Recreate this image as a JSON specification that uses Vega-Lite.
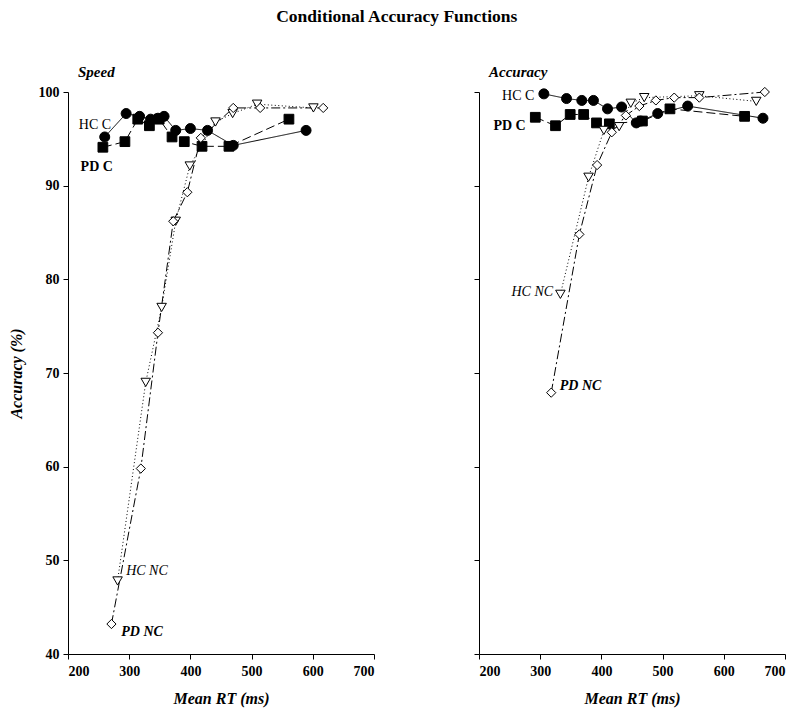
{
  "$schema": "https://vega.github.io/schema/vega-lite/v6.json",
  "background": "white",
  "padding": {"left": 8, "top": 7, "right": 5, "bottom": 5},
  "title": {"text": "Conditional Accuracy Functions", "font": "Liberation Serif", "fontSize": 17.5, "fontWeight": "bold", "anchor": "middle", "color": "black", "offset": 40},
  "datasets": {
    "pts": [
      {"panel": "Speed", "group": "HC C", "rt": 260, "acc": 95.2},
      {"panel": "Speed", "group": "HC C", "rt": 295, "acc": 97.7},
      {"panel": "Speed", "group": "HC C", "rt": 317, "acc": 97.4},
      {"panel": "Speed", "group": "HC C", "rt": 335, "acc": 97.1},
      {"panel": "Speed", "group": "HC C", "rt": 347, "acc": 97.2},
      {"panel": "Speed", "group": "HC C", "rt": 357, "acc": 97.4},
      {"panel": "Speed", "group": "HC C", "rt": 376, "acc": 95.9},
      {"panel": "Speed", "group": "HC C", "rt": 400, "acc": 96.1},
      {"panel": "Speed", "group": "HC C", "rt": 428, "acc": 95.9},
      {"panel": "Speed", "group": "HC C", "rt": 470, "acc": 94.3},
      {"panel": "Speed", "group": "HC C", "rt": 589, "acc": 95.9},
      {"panel": "Speed", "group": "PD C", "rt": 257, "acc": 94.1},
      {"panel": "Speed", "group": "PD C", "rt": 293, "acc": 94.7},
      {"panel": "Speed", "group": "PD C", "rt": 314, "acc": 97.1},
      {"panel": "Speed", "group": "PD C", "rt": 333, "acc": 96.4},
      {"panel": "Speed", "group": "PD C", "rt": 349, "acc": 97.1},
      {"panel": "Speed", "group": "PD C", "rt": 370, "acc": 95.2},
      {"panel": "Speed", "group": "PD C", "rt": 390, "acc": 94.7},
      {"panel": "Speed", "group": "PD C", "rt": 419, "acc": 94.2},
      {"panel": "Speed", "group": "PD C", "rt": 463, "acc": 94.2},
      {"panel": "Speed", "group": "PD C", "rt": 561, "acc": 97.1},
      {"panel": "Speed", "group": "HC NC", "rt": 281, "acc": 47.8},
      {"panel": "Speed", "group": "HC NC", "rt": 327, "acc": 69.0},
      {"panel": "Speed", "group": "HC NC", "rt": 353, "acc": 77.0},
      {"panel": "Speed", "group": "HC NC", "rt": 376, "acc": 86.2},
      {"panel": "Speed", "group": "HC NC", "rt": 399, "acc": 92.1},
      {"panel": "Speed", "group": "HC NC", "rt": 441, "acc": 96.8},
      {"panel": "Speed", "group": "HC NC", "rt": 469, "acc": 97.7},
      {"panel": "Speed", "group": "HC NC", "rt": 509, "acc": 98.7},
      {"panel": "Speed", "group": "HC NC", "rt": 601, "acc": 98.3},
      {"panel": "Speed", "group": "PD NC", "rt": 271, "acc": 43.2},
      {"panel": "Speed", "group": "PD NC", "rt": 319, "acc": 59.8},
      {"panel": "Speed", "group": "PD NC", "rt": 347, "acc": 74.3},
      {"panel": "Speed", "group": "PD NC", "rt": 372, "acc": 86.2},
      {"panel": "Speed", "group": "PD NC", "rt": 395, "acc": 89.3},
      {"panel": "Speed", "group": "PD NC", "rt": 417, "acc": 95.1},
      {"panel": "Speed", "group": "PD NC", "rt": 470, "acc": 98.3},
      {"panel": "Speed", "group": "PD NC", "rt": 514, "acc": 98.3},
      {"panel": "Speed", "group": "PD NC", "rt": 617, "acc": 98.3},
      {"panel": "Accuracy", "group": "HC C", "rt": 306, "acc": 99.8},
      {"panel": "Accuracy", "group": "HC C", "rt": 343, "acc": 99.3},
      {"panel": "Accuracy", "group": "HC C", "rt": 368, "acc": 99.1},
      {"panel": "Accuracy", "group": "HC C", "rt": 387, "acc": 99.1},
      {"panel": "Accuracy", "group": "HC C", "rt": 410, "acc": 98.2},
      {"panel": "Accuracy", "group": "HC C", "rt": 433, "acc": 98.4},
      {"panel": "Accuracy", "group": "HC C", "rt": 457, "acc": 96.7},
      {"panel": "Accuracy", "group": "HC C", "rt": 464, "acc": 96.9},
      {"panel": "Accuracy", "group": "HC C", "rt": 492, "acc": 97.7},
      {"panel": "Accuracy", "group": "HC C", "rt": 541, "acc": 98.5},
      {"panel": "Accuracy", "group": "HC C", "rt": 664, "acc": 97.2},
      {"panel": "Accuracy", "group": "PD C", "rt": 292, "acc": 97.3},
      {"panel": "Accuracy", "group": "PD C", "rt": 325, "acc": 96.4},
      {"panel": "Accuracy", "group": "PD C", "rt": 349, "acc": 97.6},
      {"panel": "Accuracy", "group": "PD C", "rt": 371, "acc": 97.6},
      {"panel": "Accuracy", "group": "PD C", "rt": 392, "acc": 96.7},
      {"panel": "Accuracy", "group": "PD C", "rt": 413, "acc": 96.6},
      {"panel": "Accuracy", "group": "PD C", "rt": 467, "acc": 96.9},
      {"panel": "Accuracy", "group": "PD C", "rt": 512, "acc": 98.2},
      {"panel": "Accuracy", "group": "PD C", "rt": 634, "acc": 97.4},
      {"panel": "Accuracy", "group": "HC NC", "rt": 333, "acc": 78.4},
      {"panel": "Accuracy", "group": "HC NC", "rt": 379, "acc": 90.9},
      {"panel": "Accuracy", "group": "HC NC", "rt": 404, "acc": 95.9},
      {"panel": "Accuracy", "group": "HC NC", "rt": 429, "acc": 96.3},
      {"panel": "Accuracy", "group": "HC NC", "rt": 448, "acc": 98.8},
      {"panel": "Accuracy", "group": "HC NC", "rt": 470, "acc": 99.4},
      {"panel": "Accuracy", "group": "HC NC", "rt": 560, "acc": 99.6},
      {"panel": "Accuracy", "group": "HC NC", "rt": 653, "acc": 99.0},
      {"panel": "Accuracy", "group": "PD NC", "rt": 318, "acc": 67.9},
      {"panel": "Accuracy", "group": "PD NC", "rt": 364, "acc": 84.8},
      {"panel": "Accuracy", "group": "PD NC", "rt": 393, "acc": 92.2},
      {"panel": "Accuracy", "group": "PD NC", "rt": 417, "acc": 95.7},
      {"panel": "Accuracy", "group": "PD NC", "rt": 440, "acc": 97.5},
      {"panel": "Accuracy", "group": "PD NC", "rt": 462, "acc": 98.5},
      {"panel": "Accuracy", "group": "PD NC", "rt": 489, "acc": 99.1},
      {"panel": "Accuracy", "group": "PD NC", "rt": 519, "acc": 99.4},
      {"panel": "Accuracy", "group": "PD NC", "rt": 560, "acc": 99.4},
      {"panel": "Accuracy", "group": "PD NC", "rt": 667, "acc": 100.0}
    ],
    "labels": [
      {"panel": "Speed", "label": "HC C", "rt": 244, "acc": 96.5},
      {"panel": "Speed", "label": "PD C", "rt": 247, "acc": 92.0},
      {"panel": "Speed", "label": "HC NC", "rt": 329, "acc": 48.9},
      {"panel": "Speed", "label": "PD NC", "rt": 321, "acc": 42.4},
      {"panel": "Accuracy", "label": "HC C", "rt": 264, "acc": 99.6},
      {"panel": "Accuracy", "label": "PD C", "rt": 250, "acc": 96.4},
      {"panel": "Accuracy", "label": "HC NC", "rt": 287, "acc": 78.7},
      {"panel": "Accuracy", "label": "PD NC", "rt": 366, "acc": 68.6}
    ]
  },
  "config": {
    "font": "Liberation Serif",
    "view": {"stroke": null},
    "axis": {"grid": false, "domainColor": "black", "tickColor": "black", "labelColor": "black", "titleColor": "black", "labelFont": "Liberation Serif", "labelFontSize": 14, "labelFontWeight": "bold", "titleFont": "Liberation Serif", "titleFontSize": 16, "titleFontWeight": "bold", "titleFontStyle": "italic", "tickSize": 5, "domainWidth": 1, "tickWidth": 1},
    "title": {"font": "Liberation Serif", "color": "black"},
    "legend": {"disable": true},
    "concat": {"spacing": 98}
  },
  "hconcat": [
    {
      "width": 306, "height": 562,
      "title": {"text": "Speed", "fontSize": 15, "fontWeight": "bold", "fontStyle": "italic", "anchor": "start", "frame": "group", "dx": 10, "offset": 5},
      "layer": [
        {
          "data": {"name": "pts"},
          "transform": [{"filter": "datum.panel == 'Speed'"}],
          "mark": {"type": "line", "color": "black", "strokeWidth": 1},
          "encoding": {
            "x": {"field": "rt", "type": "quantitative", "scale": {"domain": [200, 700], "nice": false}, "axis": {"values": [200, 300, 400, 500, 600, 700], "title": "Mean RT (ms)", "titlePadding": 12, "labelPadding": 5}},
            "y": {"field": "acc", "type": "quantitative", "scale": {"domain": [40, 100], "nice": false, "zero": false}, "axis": {"values": [40, 50, 60, 70, 80, 90, 100], "title": "Accuracy (%)", "titlePadding": 14, "labelPadding": 4}},
            "detail": {"field": "group"},
            "order": {"field": "rt"},
            "strokeDash": {"field": "group", "scale": {"domain": ["HC C", "PD C", "HC NC", "PD NC"], "range": [[1, 0], [9, 4], [1, 2.5], [9, 3, 2, 3]]}}
          }
        },
        {
          "data": {"name": "pts"},
          "transform": [{"filter": "datum.panel == 'Speed'"}],
          "mark": {"type": "point", "stroke": "black", "strokeWidth": 1, "opacity": 1},
          "encoding": {
            "x": {"field": "rt", "type": "quantitative"},
            "y": {"field": "acc", "type": "quantitative"},
            "shape": {"field": "group", "scale": {"domain": ["HC C", "PD C", "HC NC", "PD NC"], "range": ["circle", "square", "triangle-down", "diamond"]}},
            "fill": {"field": "group", "scale": {"domain": ["HC C", "PD C", "HC NC", "PD NC"], "range": ["black", "black", "white", "white"]}},
            "size": {"field": "group", "scale": {"domain": ["HC C", "PD C", "HC NC", "PD NC"], "range": [100, 85, 100, 110]}}
          }
        },
        {
          "data": {"name": "labels"},
          "transform": [{"filter": "datum.panel == 'Speed' && datum.label == 'HC C'"}],
          "mark": {"type": "text", "fontSize": 14, "fontWeight": "normal", "fontStyle": "normal", "color": "black"},
          "encoding": {"x": {"field": "rt", "type": "quantitative"}, "y": {"field": "acc", "type": "quantitative"}, "text": {"field": "label"}}
        },
        {
          "data": {"name": "labels"},
          "transform": [{"filter": "datum.panel == 'Speed' && datum.label == 'PD C'"}],
          "mark": {"type": "text", "fontSize": 14, "fontWeight": "bold", "fontStyle": "normal", "color": "black"},
          "encoding": {"x": {"field": "rt", "type": "quantitative"}, "y": {"field": "acc", "type": "quantitative"}, "text": {"field": "label"}}
        },
        {
          "data": {"name": "labels"},
          "transform": [{"filter": "datum.panel == 'Speed' && datum.label == 'HC NC'"}],
          "mark": {"type": "text", "fontSize": 14, "fontWeight": "normal", "fontStyle": "italic", "color": "black"},
          "encoding": {"x": {"field": "rt", "type": "quantitative"}, "y": {"field": "acc", "type": "quantitative"}, "text": {"field": "label"}}
        },
        {
          "data": {"name": "labels"},
          "transform": [{"filter": "datum.panel == 'Speed' && datum.label == 'PD NC'"}],
          "mark": {"type": "text", "fontSize": 14, "fontWeight": "bold", "fontStyle": "italic", "color": "black"},
          "encoding": {"x": {"field": "rt", "type": "quantitative"}, "y": {"field": "acc", "type": "quantitative"}, "text": {"field": "label"}}
        }
      ]
    },
    {
      "width": 306, "height": 562,
      "title": {"text": "Accuracy", "fontSize": 15, "fontWeight": "bold", "fontStyle": "italic", "anchor": "start", "frame": "group", "dx": 10, "offset": 5},
      "layer": [
        {
          "data": {"name": "pts"},
          "transform": [{"filter": "datum.panel == 'Accuracy'"}],
          "mark": {"type": "line", "color": "black", "strokeWidth": 1},
          "encoding": {
            "x": {"field": "rt", "type": "quantitative", "scale": {"domain": [200, 700], "nice": false}, "axis": {"values": [200, 300, 400, 500, 600, 700], "title": "Mean RT (ms)", "titlePadding": 12, "labelPadding": 5}},
            "y": {"field": "acc", "type": "quantitative", "scale": {"domain": [40, 100], "nice": false, "zero": false}, "axis": {"values": [40, 50, 60, 70, 80, 90, 100], "title": null, "labels": false}},
            "detail": {"field": "group"},
            "order": {"field": "rt"},
            "strokeDash": {"field": "group", "scale": {"domain": ["HC C", "PD C", "HC NC", "PD NC"], "range": [[1, 0], [9, 4], [1, 2.5], [9, 3, 2, 3]]}}
          }
        },
        {
          "data": {"name": "pts"},
          "transform": [{"filter": "datum.panel == 'Accuracy'"}],
          "mark": {"type": "point", "stroke": "black", "strokeWidth": 1, "opacity": 1},
          "encoding": {
            "x": {"field": "rt", "type": "quantitative"},
            "y": {"field": "acc", "type": "quantitative"},
            "shape": {"field": "group", "scale": {"domain": ["HC C", "PD C", "HC NC", "PD NC"], "range": ["circle", "square", "triangle-down", "diamond"]}},
            "fill": {"field": "group", "scale": {"domain": ["HC C", "PD C", "HC NC", "PD NC"], "range": ["black", "black", "white", "white"]}},
            "size": {"field": "group", "scale": {"domain": ["HC C", "PD C", "HC NC", "PD NC"], "range": [100, 85, 100, 110]}}
          }
        },
        {
          "data": {"name": "labels"},
          "transform": [{"filter": "datum.panel == 'Accuracy' && datum.label == 'HC C'"}],
          "mark": {"type": "text", "fontSize": 14, "fontWeight": "normal", "fontStyle": "normal", "color": "black"},
          "encoding": {"x": {"field": "rt", "type": "quantitative"}, "y": {"field": "acc", "type": "quantitative"}, "text": {"field": "label"}}
        },
        {
          "data": {"name": "labels"},
          "transform": [{"filter": "datum.panel == 'Accuracy' && datum.label == 'PD C'"}],
          "mark": {"type": "text", "fontSize": 14, "fontWeight": "bold", "fontStyle": "normal", "color": "black"},
          "encoding": {"x": {"field": "rt", "type": "quantitative"}, "y": {"field": "acc", "type": "quantitative"}, "text": {"field": "label"}}
        },
        {
          "data": {"name": "labels"},
          "transform": [{"filter": "datum.panel == 'Accuracy' && datum.label == 'HC NC'"}],
          "mark": {"type": "text", "fontSize": 14, "fontWeight": "normal", "fontStyle": "italic", "color": "black"},
          "encoding": {"x": {"field": "rt", "type": "quantitative"}, "y": {"field": "acc", "type": "quantitative"}, "text": {"field": "label"}}
        },
        {
          "data": {"name": "labels"},
          "transform": [{"filter": "datum.panel == 'Accuracy' && datum.label == 'PD NC'"}],
          "mark": {"type": "text", "fontSize": 14, "fontWeight": "bold", "fontStyle": "italic", "color": "black"},
          "encoding": {"x": {"field": "rt", "type": "quantitative"}, "y": {"field": "acc", "type": "quantitative"}, "text": {"field": "label"}}
        }
      ]
    }
  ]
}
